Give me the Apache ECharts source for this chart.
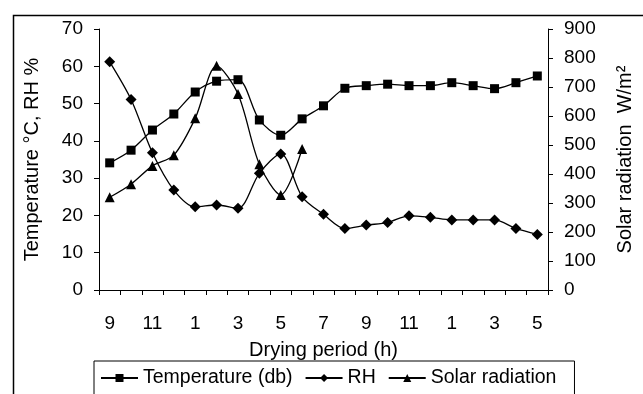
<!DOCTYPE html>
<html>
<head>
<meta charset="utf-8">
<script src="https://cdn.jsdelivr.net/npm/echarts@6/dist/echarts.min.js"></script>
<style>
  html, body { margin: 0; padding: 0; background: #fff; }
  #chart { width: 643px; height: 394px; }
</style>
</head>
<body>
<div id="chart"></div>
<script>
// 横轴：干燥时段（小时）
const hours = ['9', '10', '11', '12', '1', '2', '3', '4', '5', '6', '7', '8', '9', '10', '11', '12', '1', '2', '3', '4', '5']
// 左轴：温度、相对湿度
const temperature = [34.1, 37.5, 42.9, 47.2, 53.1, 56.0, 56.4, 45.6, 41.5, 45.9, 49.4, 54.1, 54.8, 55.2, 54.8, 54.8, 55.6, 54.8, 54.0, 55.6, 57.4]
const rh = [61.2, 51.1, 36.8, 26.8, 22.3, 22.8, 21.9, 31.3, 36.5, 25.0, 20.3, 16.5, 17.4, 18.1, 19.9, 19.5, 18.8, 18.8, 18.8, 16.5, 14.9]
// 右轴：太阳辐射（只到第一天 6 点）
const solar = [320, 365, 428, 465, 592, 773, 676, 434, 328, 486]

const font = 'Liberation Sans, Arial, sans-serif'
const black = '#000'

const chart = echarts.init(document.getElementById('chart'))

const axisLine = { show: true, lineStyle: { color: black, width: 1 } }
const axisTick = { show: true, length: 5, lineStyle: { color: black, width: 1 } }
const nameStyle = { fontFamily: font, fontSize: 20, color: black }

const option = {
    animation: false,
    backgroundColor: '#fff',
    textStyle: { fontFamily: font, color: black },
    // 外框
    graphic: [
        {
            type: 'rect',
            left: 11, top: 13,
            shape: { width: 700, height: 500 },
            style: { fill: 'none', stroke: black, lineWidth: 1.5 },
            silent: true,
            z: -1
        }
    ],
    grid: { left: 99, right: 84, top: 29, bottom: 104 },
    legend: {
        left: 94,
        top: 361,
        padding: [7, 18, 7, 6],
        itemGap: 12,
        itemWidth: 37,
        itemHeight: 10,
        borderColor: black,
        borderWidth: 1,
        textStyle: { fontFamily: font, fontSize: 19.5, color: black },
        data: ['Temperature (db)', 'RH', 'Solar radiation']
    },
    xAxis: {
        type: 'category',
        data: hours,
        boundaryGap: true,
        name: 'Drying period (h)',
        nameLocation: 'middle',
        nameGap: 50,
        nameTextStyle: nameStyle,
        axisLine: axisLine,
        axisTick: Object.assign({ interval: 0 }, axisTick),
        axisLabel: { interval: 1, margin: 24, fontFamily: font, fontSize: 19, color: black },
        splitLine: { show: false }
    },
    yAxis: [
        {
            type: 'value',
            min: 0, max: 70, interval: 10,
            position: 'left',
            name: 'Temperature °C, RH %',
            nameLocation: 'middle',
            nameGap: 57,
            nameTextStyle: nameStyle,
            axisLine: axisLine,
            axisTick: axisTick,
            axisLabel: { margin: 16, fontFamily: font, fontSize: 19, color: black },
            splitLine: { show: false }
        },
        {
            type: 'value',
            min: 0, max: 900, interval: 100,
            position: 'right',
            name: 'Solar radiation  W/m²',
            nameLocation: 'middle',
            nameGap: 67,
            nameRotate: 90,
            nameTextStyle: nameStyle,
            axisLine: axisLine,
            axisTick: axisTick,
            axisLabel: { margin: 16, fontFamily: font, fontSize: 19, color: black },
            splitLine: { show: false }
        }
    ],
    series: [
        {
            name: 'Temperature (db)',
            type: 'line',
            yAxisIndex: 0,
            data: temperature,
            smooth: 0.3,
            symbol: 'rect',
            symbolSize: 9,
            lineStyle: { color: black, width: 1.3 },
            itemStyle: { color: black }
        },
        {
            name: 'RH',
            type: 'line',
            yAxisIndex: 0,
            data: rh,
            smooth: 0.3,
            symbol: 'diamond',
            symbolSize: 11,
            lineStyle: { color: black, width: 1.3 },
            itemStyle: { color: black }
        },
        {
            name: 'Solar radiation',
            type: 'line',
            yAxisIndex: 1,
            data: solar,
            smooth: 0.3,
            symbol: 'triangle',
            symbolSize: 10,
            lineStyle: { color: black, width: 1.3 },
            itemStyle: { color: black }
        }
    ]
}

chart.setOption(option)
</script>
</body>
</html>
